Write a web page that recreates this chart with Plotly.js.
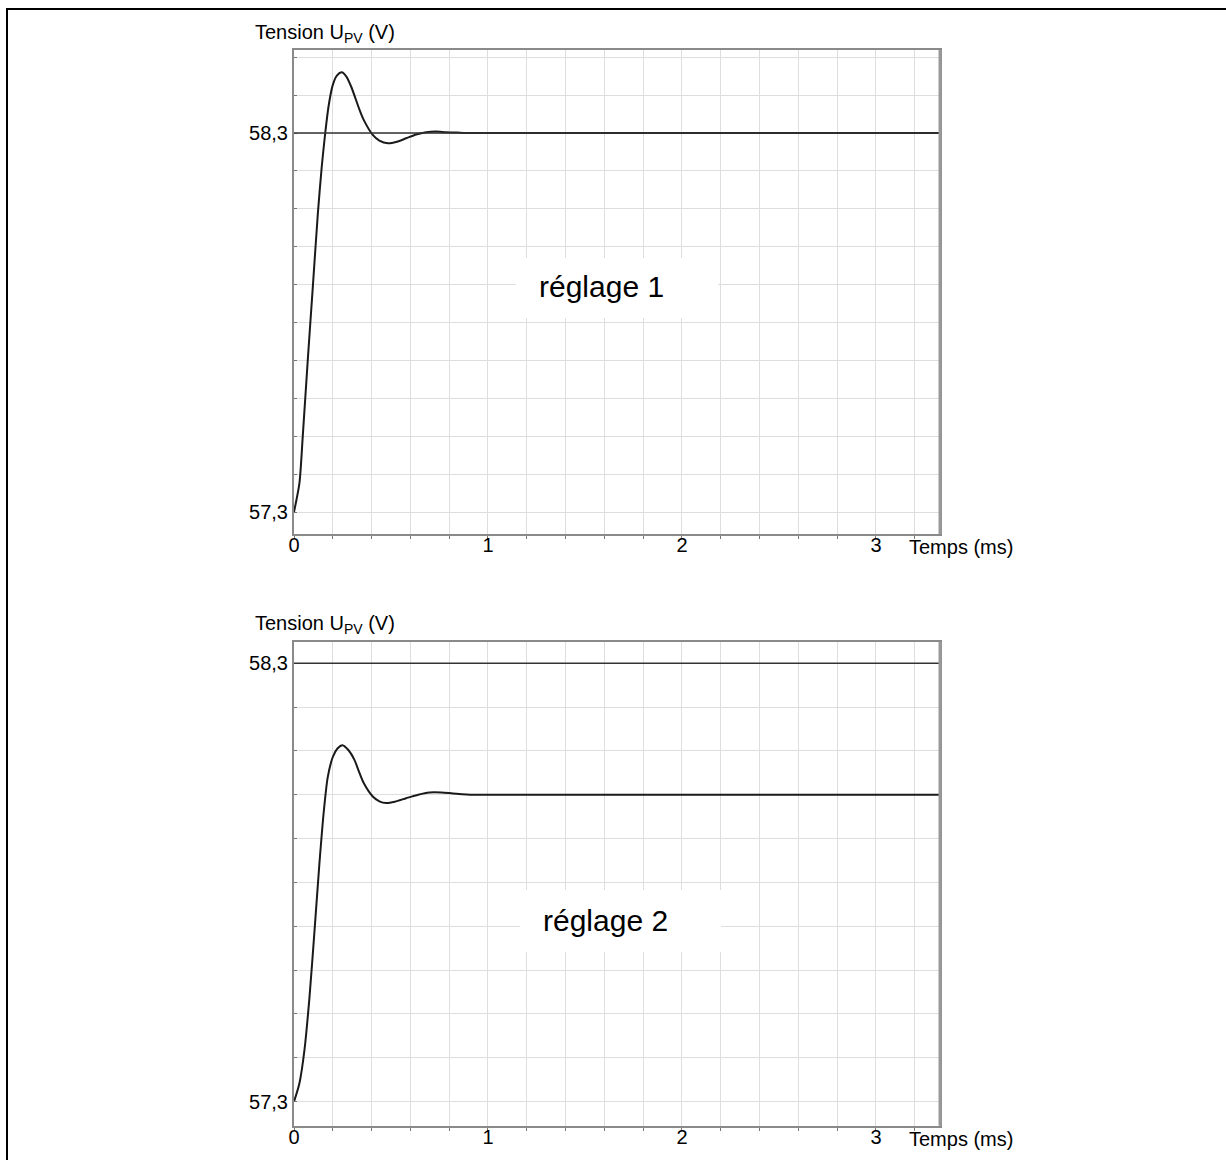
<!DOCTYPE html>
<html>
<head>
<meta charset="utf-8">
<script src="https://cdn.plot.ly/plotly-3.0.1.min.js"></script>
<style>html,body{margin:0;padding:0;background:#fff;}#chart{width:1226px;height:1160px;}</style>
</head>
<body>
<div id="chart"></div>
<script>
// ---- data ----
const tRegl1 = [0, 0.028, 0.045, 0.071, 0.097, 0.123, 0.143, 0.161, 0.178, 0.2, 0.222, 0.246, 0.27, 0.295, 0.338, 0.36, 0.406, 0.44, 0.484, 0.53, 0.578, 0.63, 0.681, 0.73, 0.784, 0.84, 0.887, 1.0, 1.5, 2.0, 2.5, 3.0, 3.33];
const vRegl1 = [57.3, 57.376, 57.499, 57.701, 57.894, 58.088, 58.211, 58.3, 58.37, 58.427, 58.452, 58.46, 58.449, 58.422, 58.361, 58.334, 58.295, 58.28, 58.273, 58.277, 58.286, 58.296, 58.302, 58.304, 58.302, 58.301, 58.3, 58.3, 58.3, 58.3, 58.3, 58.3, 58.3];

const tRegl2 = [0, 0.028, 0.054, 0.08, 0.106, 0.131, 0.154, 0.174, 0.2, 0.225, 0.25, 0.28, 0.312, 0.338, 0.36, 0.406, 0.44, 0.475, 0.52, 0.578, 0.64, 0.698, 0.76, 0.819, 0.92, 1.0, 1.5, 2.0, 2.5, 3.0, 3.33];
const vRegl2 = [57.3, 57.342, 57.418, 57.539, 57.691, 57.843, 57.964, 58.04, 58.086, 58.106, 58.113, 58.102, 58.079, 58.049, 58.026, 57.996, 57.985, 57.981, 57.984, 57.992, 58.0, 58.005, 58.005, 58.003, 58.0, 58.0, 58.0, 58.0, 58.0, 58.0, 58.0];

const refVoltage = 58.3;
const xTickVals = [0, 1, 2, 3];
const xTickText = ['0', '1', '2', '3'];
const yTickVals = [57.3, 58.3];
const yTickText = ['57,3', '58,3'];
const yTitle = 'Tension U<sub>PV</sub> (V)';
const xTitle = 'Temps (ms)';
const labels = ['réglage 1', 'réglage 2'];

// ---- styling / layout ----
const W = 1226, H = 1160;
const px = v => v / W;
const py = v => 1 - v / H;
const FONT = 'Arial, "Liberation Sans", sans-serif';
const GRID = '#dedede';
const AXC = '#8a8a8a';

const curveLine = {color: '#1a1a1a', width: 2, shape: 'spline', smoothing: 0.7};

const traces = [
  {x: tRegl1, y: vRegl1, xaxis: 'x', yaxis: 'y', mode: 'lines', line: curveLine, hoverinfo: 'skip', showlegend: false},
  {x: tRegl2, y: vRegl2, xaxis: 'x2', yaxis: 'y2', mode: 'lines', line: curveLine, hoverinfo: 'skip', showlegend: false}
];

function xAxis(anchor, dom) {
  return {
    anchor: anchor, domain: dom, range: [0, 3.33],
    tickmode: 'array', tickvals: xTickVals, ticktext: xTickText,
    showgrid: true, gridcolor: GRID, gridwidth: 1,
    ticks: '', ticklabelstandoff: -8,
    minor: {tickmode: 'linear', tick0: 0, dtick: 0.2, showgrid: true, gridcolor: GRID, gridwidth: 1, ticks: 'outside', ticklen: 3, tickcolor: '#777'},
    showline: true, mirror: true, linecolor: AXC, linewidth: 2,
    zeroline: false, fixedrange: true,
    tickfont: {family: FONT, size: 20, color: '#000'}
  };
}
function yAxis(anchor, dom, rng) {
  return {
    anchor: anchor, domain: dom, range: rng,
    tickmode: 'array', tickvals: yTickVals, ticktext: yTickText,
    showgrid: true, gridcolor: GRID, gridwidth: 1,
    ticks: 'inside', ticklen: 3, tickcolor: '#777',
    minor: {tickmode: 'linear', tick0: 57.3, dtick: 0.1, showgrid: true, gridcolor: GRID, gridwidth: 1, ticks: 'inside', ticklen: 3, tickcolor: '#777'},
    showline: true, mirror: true, linecolor: AXC, linewidth: 2,
    zeroline: false, fixedrange: true,
    tickfont: {family: FONT, size: 20, color: '#000'}
  };
}

const xDom = [px(294), px(940)];

const layout = {
  width: W, height: H,
  margin: {l: 0, r: 0, t: 0, b: 0},
  paper_bgcolor: '#fff', plot_bgcolor: '#fff',
  showlegend: false,
  font: {family: FONT, color: '#000'},
  xaxis: xAxis('y', xDom),
  yaxis: yAxis('x', [py(534), py(50)], [57.242, 58.519]),
  xaxis2: xAxis('y2', xDom),
  yaxis2: yAxis('x2', [py(1125.7), py(641.7)], [57.245, 58.349]),
  shapes: [
    // white boxes behind labels
    {type: 'rect', xref: 'paper', yref: 'paper', x0: px(516), x1: px(718), y0: py(318), y1: py(258), fillcolor: '#fff', line: {width: 0}, layer: 'above'},
    {type: 'rect', xref: 'paper', yref: 'paper', x0: px(520), x1: px(721), y0: py(952), y1: py(890), fillcolor: '#fff', line: {width: 0}, layer: 'above'},
    // reference level lines
    {type: 'line', xref: 'x domain', yref: 'y', x0: 0, x1: 1, y0: refVoltage, y1: refVoltage, line: {color: '#333', width: 1.5}, layer: 'above'},
    {type: 'line', xref: 'x2 domain', yref: 'y2', x0: 0, x1: 1, y0: refVoltage, y1: refVoltage, line: {color: '#333', width: 1.5}, layer: 'above'},
    // right shadow edges
    {type: 'line', xref: 'paper', yref: 'paper', x0: px(940), x1: px(940), y0: py(534), y1: py(50), line: {color: '#999', width: 3}, layer: 'above'},
    {type: 'line', xref: 'paper', yref: 'paper', x0: px(940), x1: px(940), y0: py(1125.7), y1: py(641.7), line: {color: '#999', width: 3}, layer: 'above'},
    // outer frame
    {type: 'line', xref: 'paper', yref: 'paper', x0: px(7), x1: px(7), y0: py(8), y1: 0, line: {color: '#000', width: 2}, layer: 'above'},
    {type: 'line', xref: 'paper', yref: 'paper', x0: px(6), x1: 1, y0: py(9), y1: py(9), line: {color: '#000', width: 2}, layer: 'above'}
  ],
  annotations: [
    {xref: 'paper', yref: 'paper', x: px(253), y: py(33), xanchor: 'left', yanchor: 'middle', text: yTitle, showarrow: false, font: {family: FONT, size: 20, color: '#000'}},
    {xref: 'paper', yref: 'paper', x: px(253), y: py(624), xanchor: 'left', yanchor: 'middle', text: yTitle, showarrow: false, font: {family: FONT, size: 20, color: '#000'}},
    {xref: 'paper', yref: 'paper', x: px(907), y: py(547), xanchor: 'left', yanchor: 'middle', text: xTitle, showarrow: false, font: {family: FONT, size: 20, color: '#000'}},
    {xref: 'paper', yref: 'paper', x: px(907), y: py(1139), xanchor: 'left', yanchor: 'middle', text: xTitle, showarrow: false, font: {family: FONT, size: 20, color: '#000'}},
    {xref: 'paper', yref: 'paper', x: px(601), y: py(287), xanchor: 'center', yanchor: 'middle', text: labels[0], showarrow: false, font: {family: FONT, size: 30, color: '#000'}},
    {xref: 'paper', yref: 'paper', x: px(605), y: py(920), xanchor: 'center', yanchor: 'middle', text: labels[1], showarrow: false, font: {family: FONT, size: 30, color: '#000'}}
  ]
};

Plotly.newPlot('chart', traces, layout, {staticPlot: true, displayModeBar: false});
</script>
</body>
</html>
